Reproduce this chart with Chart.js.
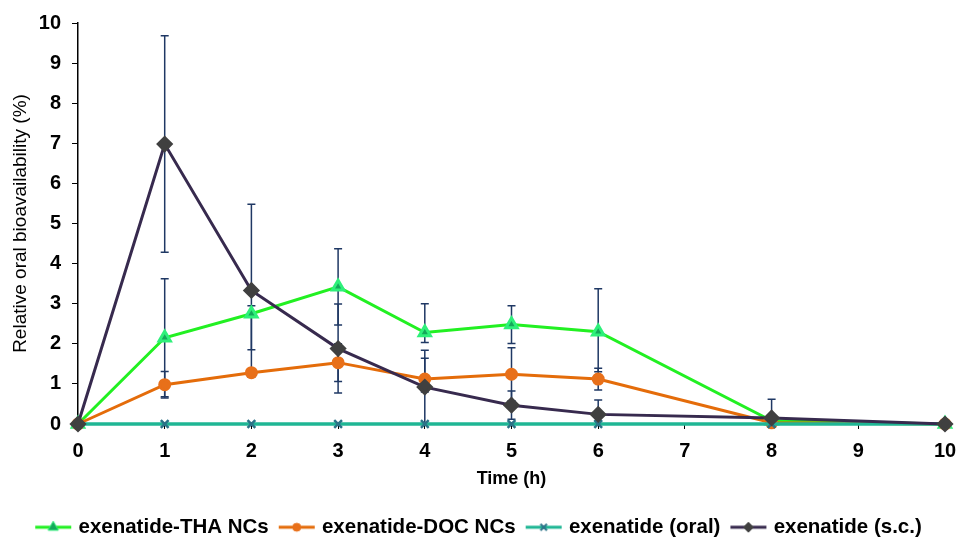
<!DOCTYPE html>
<html>
<head>
<meta charset="utf-8">
<script src="https://cdn.jsdelivr.net/npm/chart.js@4.4.1/dist/chart.umd.min.js"></script>
<style>
  html, body { margin: 0; padding: 0; background: #fff; }
  #wrap { width: 956px; height: 541px; position: relative; }
</style>
</head>
<body>
<div id="wrap"><canvas id="chart"></canvas></div>
<script>
// time points (h)
const timeH = [0, 1, 2, 3, 4, 5, 6, 8, 10];

// exenatide-THA NCs
const thaMean    = [0, 2.15, 2.75, 3.42, 2.28, 2.48, 2.30, 0.08, 0];
const thaErrUp   = [0, 1.47, 0.20, 0.95, 0.72, 0.47, 1.07, 0, 0];
const thaErrDown = [0, 1.47, 0.90, 0.95, 0.25, 0.47, 1.00, 0, 0];

// exenatide-DOC NCs
const docMean    = [0, 0.98, 1.28, 1.53, 1.12, 1.24, 1.12, 0.03, 0];
const docErrUp   = [0, 0.33, 0.10, 0.47, 0.52, 0.66, 0.27, 0, 0];
const docErrDown = [0, 0.33, 0.10, 0.47, 0.32, 0.66, 0.27, 0, 0];

// exenatide (oral)
const oralMean = [0, 0, 0, 0, 0, 0, 0, 0, 0];

// exenatide (s.c.)
const scMean    = [0, 6.98, 3.33, 1.88, 0.92, 0.47, 0.24, 0.15, 0];
const scErrUp   = [0, 2.70, 2.15, 1.11, 0.92, 0.35, 0.36, 0.47, 0];
const scErrDown = [0, 2.70, 2.15, 1.11, 0.92, 0.35, 0.24, 0.15, 0];

const seriesNames = ['exenatide-THA NCs', 'exenatide-DOC NCs', 'exenatide (oral)', 'exenatide (s.c.)'];
const yTicks = [0, 1, 2, 3, 4, 5, 6, 7, 8, 9, 10];
const xTicks = [0, 1, 2, 3, 4, 5, 6, 7, 8, 9, 10];

const FONT = "'Liberation Sans', Arial, sans-serif";

function toPoints(vals) {
    return vals.map((v, i) => ({ x: timeH[i], y: v }));
}

// legend icon: short line with the marker in the middle
function legendIcon(lineColor, style, fill, border, r, bw) {
    const c = document.createElement('canvas');
    c.width = 38; c.height = 16;
    const ctx = c.getContext('2d');
    ctx.strokeStyle = lineColor;
    ctx.lineWidth = 3;
    ctx.beginPath();
    ctx.moveTo(1, 8);
    ctx.lineTo(37, 8);
    ctx.stroke();
    ctx.fillStyle = fill;
    ctx.strokeStyle = border;
    ctx.lineWidth = bw;
    Chart.helpers.drawPoint(ctx, { pointStyle: style, radius: r, borderWidth: bw }, 19, 8);
    return c;
}

const errorBars = {
    id: 'errorBars',
    beforeDatasetsDraw(chart) {
        const ctx = chart.ctx;
        const xs = chart.scales.x, ys = chart.scales.y;
        ctx.save();
        ctx.strokeStyle = '#1f3864';
        ctx.lineWidth = 1.5;
        chart.data.datasets.forEach(ds => {
            if (!ds.errUp) return;
            ds.data.forEach((p, i) => {
                const up = ds.errUp[i], dn = ds.errDown[i];
                if (!up && !dn) return;
                const px = xs.getPixelForValue(p.x);
                const top = ys.getPixelForValue(p.y + up);
                const bot = ys.getPixelForValue(Math.max(0, p.y - dn));
                ctx.beginPath();
                ctx.moveTo(px, top); ctx.lineTo(px, bot);
                if (up) { ctx.moveTo(px - 4, top); ctx.lineTo(px + 4, top); }
                if (dn && p.y - dn > 0) { ctx.moveTo(px - 4, bot); ctx.lineTo(px + 4, bot); }
                ctx.stroke();
            });
        });
        ctx.restore();
    }
};

const data = {
    datasets: [
        {
            label: seriesNames[0],
            data: toPoints(thaMean),
            errUp: thaErrUp, errDown: thaErrDown,
            borderColor: '#22f022',
            backgroundColor: '#14a85a',
            pointBorderColor: '#2ef07a',
            pointStyle: 'triangle',
            pointRadius: 6.5,
            borderWidth: 3,
            clip: false,
            order: 3
        },
        {
            label: seriesNames[1],
            data: toPoints(docMean),
            errUp: docErrUp, errDown: docErrDown,
            borderColor: '#e46c0a',
            backgroundColor: '#e8701a',
            pointBorderColor: '#e8701a',
            pointStyle: 'circle',
            pointRadius: 5,
            borderWidth: 3,
            clip: false,
            order: 2
        },
        {
            label: seriesNames[2],
            data: toPoints(oralMean),
            borderColor: '#1fb694',
            backgroundColor: '#2b7f8c',
            pointBorderColor: '#2b7388',
            pointStyle: 'crossRot',
            pointRadius: 5.5,
            pointBorderWidth: 2.5,
            borderWidth: 3.5,
            clip: false,
            order: 1
        },
        {
            label: seriesNames[3],
            data: toPoints(scMean),
            errUp: scErrUp, errDown: scErrDown,
            borderColor: '#372a4e',
            backgroundColor: '#404040',
            pointBorderColor: '#404040',
            pointStyle: 'rectRot',
            pointRadius: 6.5,
            borderWidth: 3,
            clip: false,
            order: 0
        }
    ]
};

const icons = [
    legendIcon('#22f022', 'triangle', '#14a85a', '#2ef07a', 6, 1),
    legendIcon('#e46c0a', 'circle', '#e8701a', '#e8701a', 4, 1),
    legendIcon('#1fb694', 'crossRot', '#2b7f8c', '#2b7388', 4.5, 2),
    legendIcon('#372a4e', 'rectRot', '#404040', '#404040', 5, 1)
];

const chart = new Chart(document.getElementById('chart').getContext('2d'), {
    type: 'line',
    data: data,
    plugins: [errorBars],
    options: {
        responsive: true,
        maintainAspectRatio: false,
        animation: false,
        layout: { padding: { left: 4, right: 0, top: 22, bottom: 0 } },
        plugins: {
            tooltip: { enabled: false },
            legend: {
                position: 'bottom',
                maxHeight: 37,
                labels: {
                    usePointStyle: true,
                    pointStyleWidth: 30,
                    padding: 13,
                    color: '#000',
                    font: { family: FONT, size: 20.5, weight: 'bold' },
                    generateLabels: (c) => c.data.datasets.map((ds, i) => ({
                        text: ds.label,
                        pointStyle: icons[i],
                        fillStyle: ds.borderColor,
                        strokeStyle: ds.borderColor,
                        lineWidth: 0,
                        fontColor: '#000',
                        datasetIndex: i,
                        hidden: false
                    }))
                }
            }
        },
        scales: {
            x: {
                type: 'linear',
                min: 0,
                max: 10,
                afterBuildTicks: (s) => { s.ticks = xTicks.map(v => ({ value: v })); },
                afterFit: (s) => { s.height = 80; s.paddingRight = 11; s.paddingLeft = 0; },
                border: { color: '#000', width: 1.5 },
                grid: { display: true, drawOnChartArea: false, drawTicks: true, tickLength: 5, color: '#000' },
                ticks: { color: '#000', padding: 10, font: { family: FONT, size: 20, weight: 'bold' } },
                title: {
                    display: true,
                    text: 'Time (h)',
                    color: '#000',
                    padding: { top: 0, bottom: 14 },
                    font: { family: FONT, size: 18, weight: 'bold' }
                }
            },
            y: {
                min: 0,
                max: 10,
                afterBuildTicks: (s) => { s.ticks = yTicks.map(v => ({ value: v })); },
                afterFit: (s) => { s.width = 74; },
                border: { color: '#000', width: 1.5 },
                grid: { display: true, drawOnChartArea: false, drawTicks: true, tickLength: 6, color: '#000' },
                ticks: { color: '#000', padding: 11, font: { family: FONT, size: 20, weight: 'bold' } },
                title: {
                    display: true,
                    text: 'Relative oral bioavailability (%)',
                    color: '#000',
                    padding: { top: 5, bottom: 0 },
                    font: { family: FONT, size: 19 }
                }
            }
        }
    }
});
</script>
</body>
</html>
